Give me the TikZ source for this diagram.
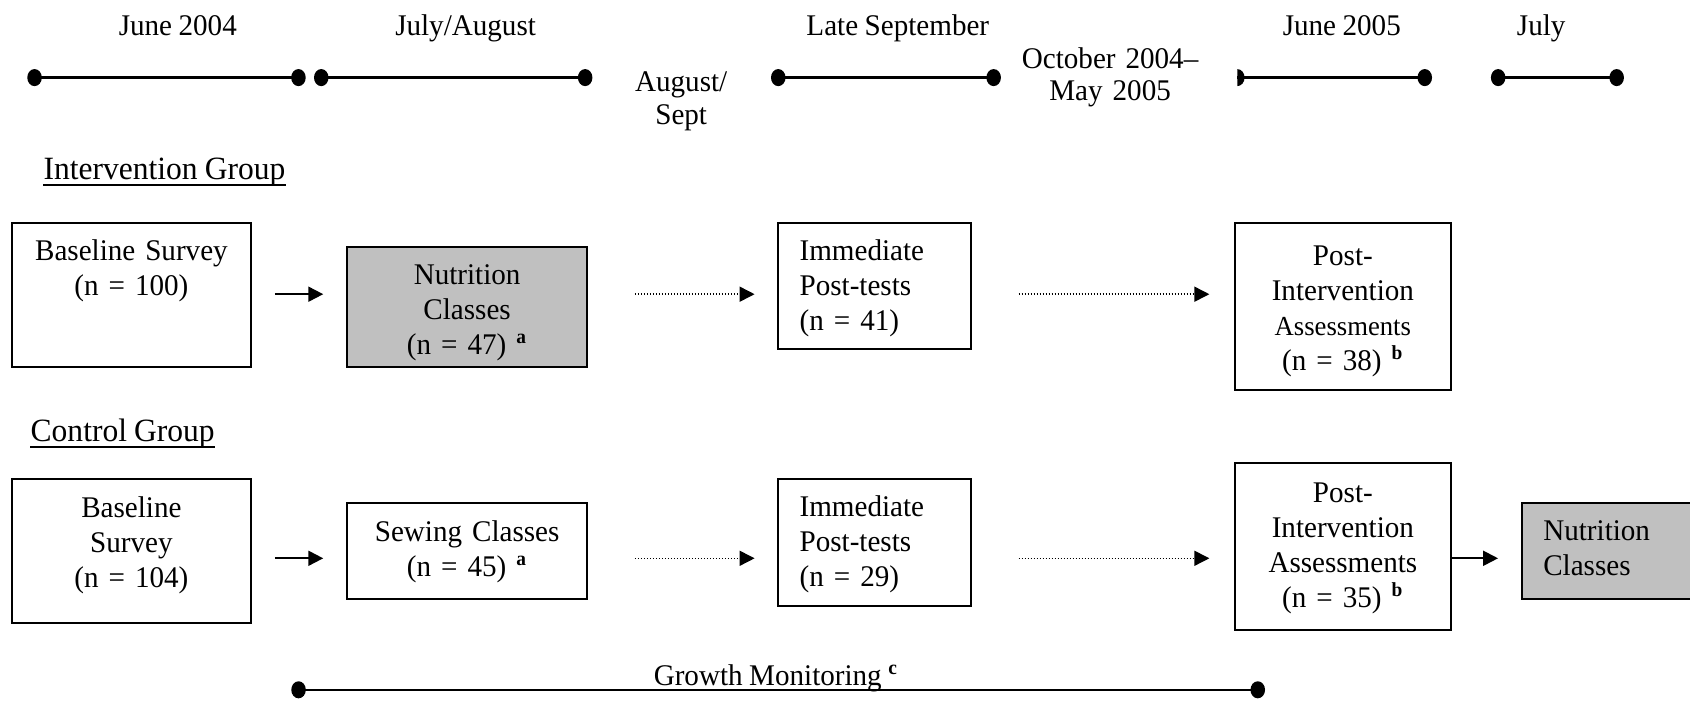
\documentclass[tikz,border=0pt]{standalone}
\usepackage{fontspec}
\setmainfont{Liberation Serif}[FakeStretch=0.97, WordSpace=0.9]
\usepackage{tikz}
\usetikzlibrary{arrows.meta}
\definecolor{classGray}{RGB}{192,192,192}

\begin{document}
\begin{tikzpicture}[x=0.4pt, y=-0.4pt,
  font=\fontsize{12}{14}\selectfont,
  span/.style={line width=1pt, {Circle[length=5.8pt,width=6.8pt]}-{Circle[length=5.8pt,width=6.8pt]}},
  datelbl/.style={text height=8pt, text depth=0pt, inner sep=0pt},
  grouplbl/.style={datelbl, anchor=base west, font=\fontsize{13}{15}\selectfont},
  twoline/.style={text width=90pt, align=center, anchor=base, inner sep=0pt, font=\fontsize{12}{13}\selectfont},
  stage/.style={draw, line width=0.8pt, anchor=north west, inner ysep=0pt, inner xsep=1pt, align=center},
  leftstage/.style={stage, inner xsep=8.6pt, align=left},
  flow/.style={line width=0.8pt, -{Triangle[length=6pt,width=6pt]}},
  waitflow/.style={line width=0.6pt, dash pattern=on 0.6pt off 0.6pt, -{Triangle[length=6pt,width=6pt]}},
]
\useasboundingbox (0,0) rectangle (1690,704);

% time line
\foreach \a/\b in {34.5/298.5, 321.2/585.2, 778.2/993.7, 1498.1/1616.7}
  \draw[span] (\a-7.2,77.6) -- (\b+7.2,77.6);
\draw[line width=1pt, -{Circle[length=5.8pt,width=6.8pt]}] (1237.3,77.6) -- (1432,77.6);
\fill (1237.3,77.6) ++(0,3.4pt) arc[start angle=90, end angle=-90, x radius=2.9pt, y radius=3.4pt] -- cycle;
\foreach \x/\lbl [count=\i] in {177.8/June 2004, 465.6/{July/August}, 897.8/Late September, 1341.8/June 2005, 1541.2/July}
  \node[datelbl] (date\i) at (\x,25.9) {\lbl};
\node[twoline] (augsep) at (681.2,92) {August/\\Sept};
\node[twoline] (octmay) at (1110.1,68.3) {October 2004--\\May 2005};

% intervention group
\node[grouplbl] (intTitle) at (43.1,180) {Intervention Group};
\draw[line width=0.6pt] ([yshift=-2pt]intTitle.base west) -- ([yshift=-2pt]intTitle.base east);
\node[stage, text width=93.7pt, text height=15.2pt, text depth=42.6pt] (base1) at (10.8,222) {Baseline Survey\\(n = 100)};
\node[stage, fill=classGray, text width=94.1pt, text height=15.2pt, text depth=33.1pt] (nut1) at (346,245.7) {Nutrition\\Classes\\(n = 47) \textsuperscript{\textbf{a}}};
\node[leftstage, text width=60pt, text height=15.2pt, text depth=35.2pt] (imm1) at (777.1,222) {Immediate\\Post-tests\\(n = 41)};
\node[stage, text width=84.2pt, text height=17pt, text depth=49.8pt] (post1) at (1234.1,222) {Post-\\Intervention\\{\fontsize{11}{14}\selectfont Assessments}\\(n = 38) \textsuperscript{\textbf{b}}};
\coordinate (row1) at (0,294.2);
\draw[flow, shorten <=9.1pt, shorten >=9.1pt] (base1.east |- row1) -- (nut1.west |- row1);
\draw[waitflow, shorten <=18.6pt, shorten >=9pt] (nut1.east |- row1) -- (imm1.west |- row1);
\draw[waitflow, shorten <=18.6pt, shorten >=9.9pt] (imm1.east |- row1) -- (post1.west |- row1);

% control group
\node[grouplbl] (ctlTitle) at (30.2,442) {Control Group};
\draw[line width=0.6pt] ([yshift=-2pt]ctlTitle.base west) -- ([yshift=-2pt]ctlTitle.base east);
\node[stage, text width=93.7pt, text height=15.2pt, text depth=42.2pt] (base2) at (10.8,478.5) {Baseline\\Survey\\(n = 104)};
\node[stage, text width=94.1pt, text height=15.2pt, text depth=23.2pt] (sew2) at (346,502.2) {Sewing Classes\\(n = 45) \textsuperscript{\textbf{a}}};
\node[leftstage, text width=60pt, text height=14.8pt, text depth=35.6pt] (imm2) at (777.1,478.5) {Immediate\\Post-tests\\(n = 29)};
\node[stage, text width=84.2pt, text height=15.6pt, text depth=51.2pt] (post2) at (1234.1,462.4) {Post-\\Intervention\\Assessments\\(n = 35) \textsuperscript{\textbf{b}}};
\node[leftstage, fill=classGray, text width=52pt, text height=14.8pt, text depth=23.6pt] (nut2) at (1520.8,502.2) {Nutrition\\Classes};
\coordinate (row2) at (0,558.3);
\draw[flow, shorten <=9.1pt, shorten >=9.1pt] (base2.east |- row2) -- (sew2.west |- row2);
\draw[waitflow, shorten <=18.6pt, shorten >=9pt] (sew2.east |- row2) -- (imm2.west |- row2);
\draw[waitflow, shorten <=18.6pt, shorten >=9.9pt] (imm2.east |- row2) -- (post2.west |- row2);
\draw[flow, shorten >=9.1pt] (post2.east |- row2) -- (nut2.west |- row2);

% growth monitoring
\draw[span] (291.3,689.8) -- (1265,689.8);
\node[datelbl] (growth) at (776,675.8) {Growth Monitoring \textsuperscript{\textbf{c}}};
\end{tikzpicture}
\end{document}
